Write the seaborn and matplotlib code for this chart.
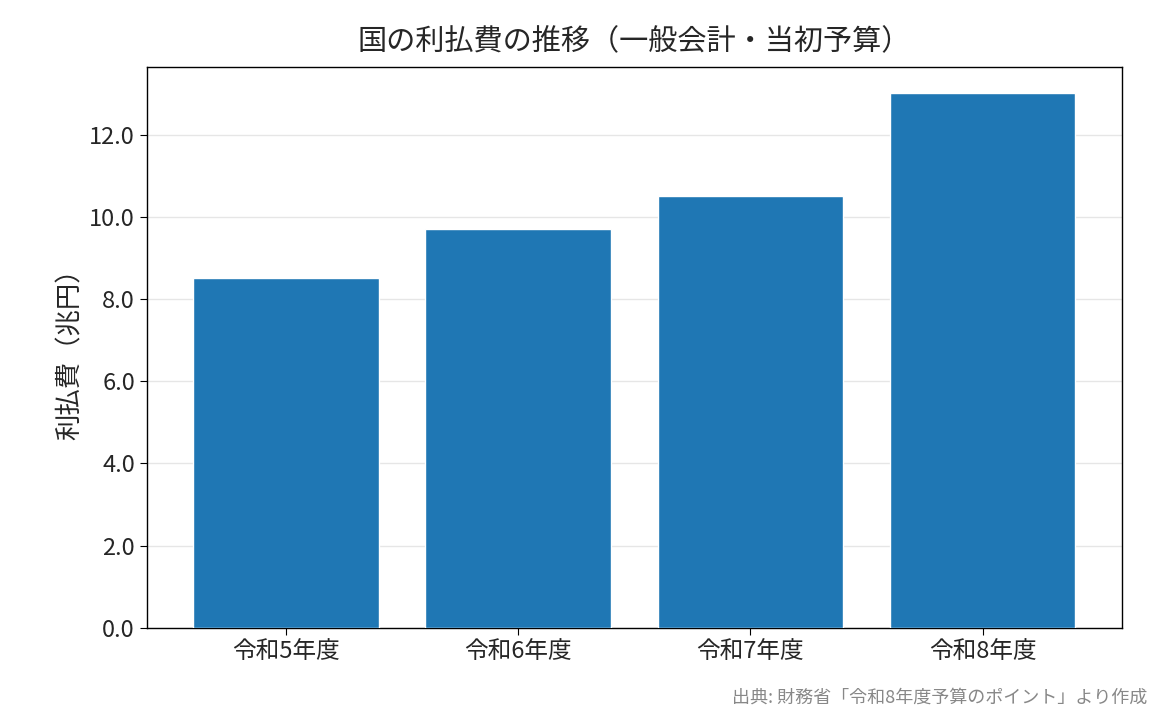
import matplotlib
matplotlib.use("Agg")
import matplotlib.pyplot as plt
import seaborn as sns
import pandas as pd

# ==== DATA ====
years = ["令和5年度", "令和6年度", "令和7年度", "令和8年度"]
interest = [8.5, 9.7, 10.5, 13.0]

df = pd.DataFrame({"year": years, "interest": interest})

sns.set_style("white")
plt.rcParams['font.family'] = ['Noto Sans CJK JP', 'DejaVu Sans']

fig, ax = plt.subplots(figsize=(11.65, 7.25), dpi=100)
sns.barplot(x="year", y="interest", data=df, color="#1f77b4", saturation=1,
            width=0.8, ax=ax, zorder=3)
ax.yaxis.grid(True, color="#e6e6e6", linewidth=1, zorder=0)
ax.set_axisbelow(True)
ax.set_ylim(0, 13.65)
ax.set_xlim(-0.6, 3.6)
ax.set_yticks([0, 2, 4, 6, 8, 10, 12])
ax.set_yticklabels([f"{v:.1f}" for v in [0, 2, 4, 6, 8, 10, 12]])
ax.tick_params(axis="both", labelsize=17, length=5, color="black")
ax.tick_params(axis="x", bottom=True)
ax.tick_params(axis="y", left=True)
for s in ax.spines.values():
    s.set_color("black")
    s.set_linewidth(1)
ax.set_xlabel("")
ax.set_ylabel("利払費（兆円）", fontsize=19)
ax.set_title("国の利払費の推移（一般会計・当初予算）", fontsize=21, pad=12)

fig.subplots_adjust(left=0.126, right=0.963, top=0.908, bottom=0.134)
fig.text(0.985, 0.025, "出典: 財務省「令和8年度予算のポイント」より作成",
         ha="right", va="bottom", fontsize=13, color="#888888")

plt.savefig("out.png", dpi=100)
